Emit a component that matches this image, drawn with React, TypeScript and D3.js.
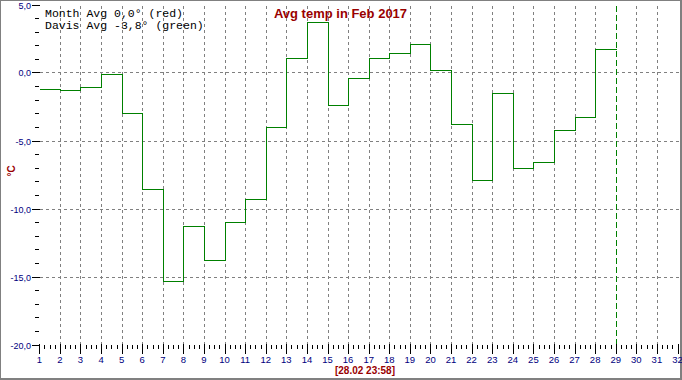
import React from "react";
import * as d3 from "d3";

const days: number[] = [1,2,3,4,5,6,7,8,9,10,11,12,13,14,15,16,17,18,19,20,21,22,23,24,25,26,27,28];
const davisAvg: number[] = [-1.2,-1.3,-1.1,-0.1,-3.0,-8.6,-15.3,-11.3,-13.8,-11.0,-9.3,-4.0,1.1,3.7,-2.4,-0.4,1.1,1.4,2.1,0.2,-3.8,-7.9,-1.5,-7.0,-6.6,-4.2,-3.3,1.7];
const xTickDays: number[] = d3.range(1, 33);
const yMajorTicks: number[] = [5, 0, -5, -10, -15, -20];
const yGridTicks: number[] = [0, -5, -10, -15];
const legendLines: string[] = ["Month Avg 0,0° (red)", "Davis Avg -3,8° (green)"];
const title = "Avg temp in Feb 2017";
const stamp = "[28.02 23:58]";
const unit = "°C";
const lastDay = 29;

const W = 682, H = 380;

export default function App() {
  const x = d3.scaleLinear().domain([1, 32]).range([39.3, 677.5]);
  const y = d3.scaleLinear().domain([5, -20]).range([4.5, 344.5]);

  const pts: [number, number][] = days.map((d, i) => [d, davisAvg[i]]);
  pts.push([lastDay, davisAvg[davisAvg.length - 1]]);
  const line = d3.line<[number, number]>()
    .x(d => Math.round(x(d[0])) + 0.5)
    .y(d => Math.round(y(d[1])) + 0.5)
    .curve(d3.curveStepAfter);

  const minorY = d3.range(5, -20.5, -1).filter(v => v % 5 !== 0);
  const minorX = d3.range(1, 32.01, 0.25).filter(v => Math.abs(v - Math.round(v)) > 0.01);
  const px = (v: number) => Math.round(x(v)) + 0.5;
  const py = (v: number) => Math.round(y(v)) + 0.5;
  const fmt = (v: number) => v.toFixed(1).replace(".", ",");

  return (
    <svg width={W} height={H} style={{ position: "absolute", left: 0, top: 0, background: "#fff" }}>
      <rect x={0} y={0} width={W} height={H} fill="#fff" />
      {/* border */}
      <line x1={0} y1={0.5} x2={W} y2={0.5} stroke="#808080" />
      <line x1={0.5} y1={0} x2={0.5} y2={H} stroke="#808080" />
      <line x1={W - 1} y1={0} x2={W - 1} y2={H} stroke="#808080" strokeWidth={2} />
      <line x1={0} y1={H - 1} x2={W} y2={H - 1} stroke="#808080" strokeWidth={2} />

      {/* grid */}
      <g stroke="#808080" strokeDasharray="3,3" shapeRendering="crispEdges">
        {xTickDays.filter(d => d > 1 && d < 32 && d !== lastDay).map(d => (
          <line key={d} x1={px(d)} x2={px(d)} y1={py(5)} y2={py(-20)} />
        ))}
        {yGridTicks.map(v => (
          <line key={v} x1={px(1)} x2={px(32)} y1={py(v)} y2={py(v)} />
        ))}
      </g>
      {/* last day marker */}
      <line x1={px(lastDay)} x2={px(lastDay)} y1={py(5)} y2={py(-20)} stroke="#008000" strokeDasharray="6,3" shapeRendering="crispEdges" />

      {/* data */}
      <path d={line(pts) || ""} fill="none" stroke="#008000" strokeWidth={1} shapeRendering="crispEdges" />

      {/* y axis ticks */}
      <g stroke="#000" shapeRendering="crispEdges">
        {yMajorTicks.map(v => (
          <line key={v} x1={32} x2={40} y1={py(v)} y2={py(v)} strokeWidth={1} />
        ))}
        {minorY.map(v => (
          <line key={v} x1={35} x2={39} y1={py(v)} y2={py(v)} />
        ))}
      </g>
      <g fill="#000080" fontFamily="Liberation Sans, Arial, sans-serif" fontSize={9} textAnchor="end">
        {yMajorTicks.map(v => (
          <text key={v} x={31} y={py(v) + 3}>{fmt(v)}</text>
        ))}
      </g>

      {/* x axis ticks */}
      <g stroke="#000" shapeRendering="crispEdges">
        {xTickDays.map(d => (
          <line key={d} x1={px(d)} x2={px(d)} y1={344} y2={354} />
        ))}
        {minorX.map(v => (
          <line key={v} x1={px(v)} x2={px(v)} y1={345} y2={349} />
        ))}
      </g>
      <g fill="#000080" fontFamily="Liberation Sans, Arial, sans-serif" fontSize={9.5} textAnchor="middle">
        {xTickDays.map(d => (
          <text key={d} x={x(d)} y={363}>{d}</text>
        ))}
      </g>

      {/* legend */}
      <g fill="#000" fontFamily="Liberation Mono, Courier New, monospace" fontSize={11.5}>
        {legendLines.map((t, i) => (
          <text key={i} x={45} y={16.5 + i * 12.5} xmlSpace="preserve">{t}</text>
        ))}
      </g>

      {/* title */}
      <text x={340.5} y={18} textAnchor="middle" fill="#990000" fontFamily="Liberation Sans, Arial, sans-serif" fontWeight="bold" fontSize={13}>{title}</text>

      {/* unit */}
      <text transform="translate(15,171) rotate(-90)" textAnchor="middle" fill="#990000" fontFamily="Liberation Sans, Arial, sans-serif" fontWeight="bold" fontSize={10}>{unit}</text>

      {/* timestamp */}
      <text x={365} y={374} textAnchor="middle" fill="#990000" fontFamily="Liberation Sans, Arial, sans-serif" fontWeight="bold" fontSize={10}>{stamp}</text>
    </svg>
  );
}
